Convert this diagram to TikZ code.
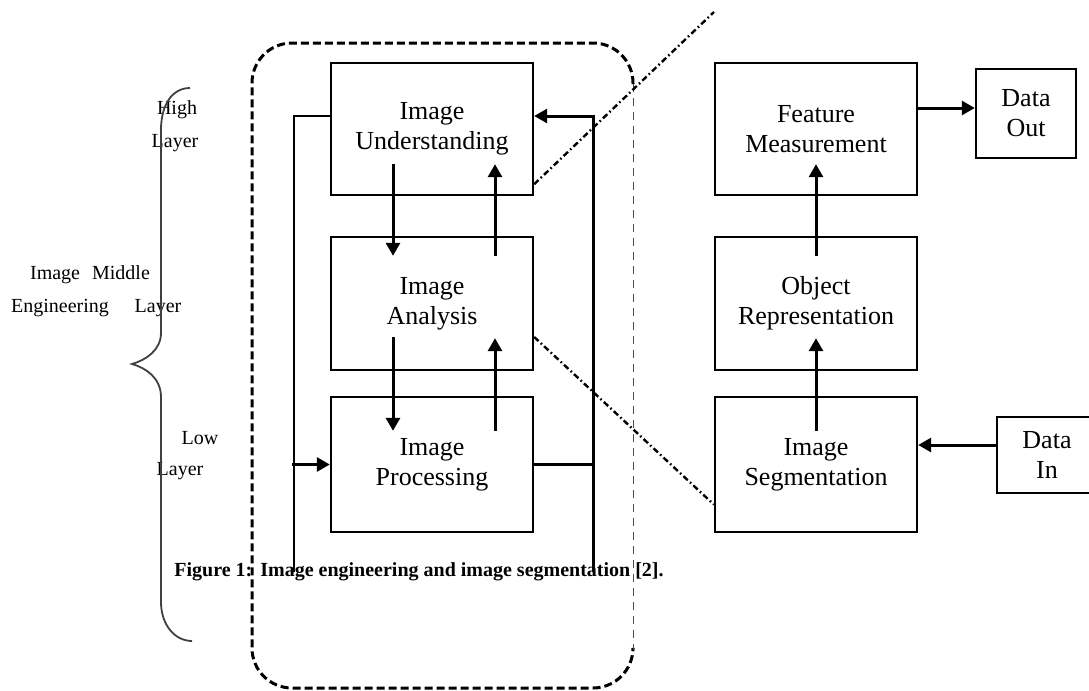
\documentclass[tikz,border=0pt]{standalone}
\usepackage{fontspec}
\setmainfont{Liberation Serif}
\usetikzlibrary{arrows.meta}

\begin{document}
\begin{tikzpicture}[x=0.5pt,y=-0.5pt,>={Triangle[length=6.5pt,width=7pt]},
  blk/.style={draw,line width=1.2pt,minimum width=101pt,align=center,inner sep=0pt,font=\fontsize{13}{15}\selectfont},
  arr/.style={->,line width=1.5pt},
  lbl/.style={inner sep=0pt,font=\fontsize{10}{12}\selectfont},
  bigdash/.style={line width=1.5pt,dash pattern=on 4pt off 2pt},
  chain/.style={line width=1.2pt,dash pattern=on 3pt off 1.5pt on 0.8pt off 1.5pt}]
\useasboundingbox (0,0) rectangle (1089,691);
% left column
\node[blk,minimum height=66pt] (und) at (432,129) {Image\\Understanding};
\node[blk,minimum height=66.5pt] (ana) at (432,303.5) {Image\\Analysis};
\node[blk,minimum height=67.5pt] (proc) at (432,464.5) {Image\\Processing};
% right column
\node[blk,minimum height=66pt] (feat) at (816,129) {Feature\\Measurement};
\node[blk,minimum height=66.5pt] (rep) at (816,303.5) {Object\\Representation};
\node[blk,minimum height=67.5pt] (seg) at (816,464.5) {Image\\Segmentation};
\node[blk,minimum width=50pt,minimum height=44.5pt] (out) at (1026,113.5) {Data\\Out};
\node[blk,minimum width=50pt,minimum height=38pt] (in) at (1047,455) {Data\\In};
% layer labels
\node[lbl] (high) at (177,110) {High};
\node[lbl] (hlayer) at (175,143) {Layer};
\node[lbl] (mid) at (90,275) {Image\hspace{6pt}Middle};
\node[lbl] (eng) at (60,308) {Engineering};
\node[lbl] (mlayer) at (158,308) {Layer};
\node[lbl] (low) at (200,438) {Low};
\node[lbl] (llayer) at (180,471) {Layer};
\node[font=\bfseries\fontsize{10}{12}\selectfont,inner sep=0pt] (cap) at (419,572) {Figure 1:\hspace{4pt}Image engineering and image segmentation [2].};
% brace
\draw[line width=0.9pt,black!75] (190,88) .. controls (172,88) and (161,105) .. (161,130) -- (161,333)
  .. controls (161,350) and (146,360) .. (132,364) .. controls (146,368) and (161,378) .. (161,397)
  -- (161,602) .. controls (161,625) and (175,641) .. (192,641);
% dashed frame
\draw[bigdash,rounded corners=20pt] (633,84) -- (633,43) -- (252,43) -- (252,688) -- (633,688) -- (633,650);
\draw[line width=0.5pt,dash pattern=on 4pt off 3pt,black!70] (633,84) -- (633,650);
% up and down arrows
\draw[arr] ([xshift=-19.5pt,yshift=16pt]und.south) -- ([xshift=-19.5pt,yshift=-10pt]ana.north);
\draw[arr] ([xshift=31.5pt,yshift=-10pt]ana.north) -- ([xshift=31.5pt,yshift=16pt]und.south);
\draw[arr] ([xshift=-19.5pt,yshift=17pt]ana.south) -- ([xshift=-19.5pt,yshift=-17.5pt]proc.north);
\draw[arr] ([xshift=31.5pt,yshift=-17.5pt]proc.north) -- ([xshift=31.5pt,yshift=16.5pt]ana.south);
\draw[arr] ([yshift=-17.5pt]seg.north) -- ([yshift=16.5pt]rep.south);
\draw[arr] ([yshift=-10pt]rep.north) -- ([yshift=16pt]feat.south);
\draw[arr] ([yshift=10.5pt]feat.east) -- ([yshift=10.5pt]feat.east -| out.west);
\draw[arr] ([yshift=5pt]in.west) -- ([yshift=5pt]in.west -| seg.east);
% feedback loops
\coordinate (lb) at (294,572);
\coordinate (rb) at (593,572);
\draw[line width=0.7pt] ([yshift=6.5pt]und.west) -| (lb);
\draw[arr] ([xshift=-1pt]proc.west -| lb) -- (proc.west);
\draw[line width=1.2pt] (proc.east) -| (rb);
\draw[arr] (rb) |- ([yshift=6.5pt]und.east);
% zoom lines
\coordinate (tipend) at (714,12);
\draw[chain] ([yshift=6pt]und.south east) -- (tipend);
\draw[chain] ([yshift=-16.75pt]ana.east) -- ([yshift=-20pt]seg.west);
\end{tikzpicture}
\end{document}
